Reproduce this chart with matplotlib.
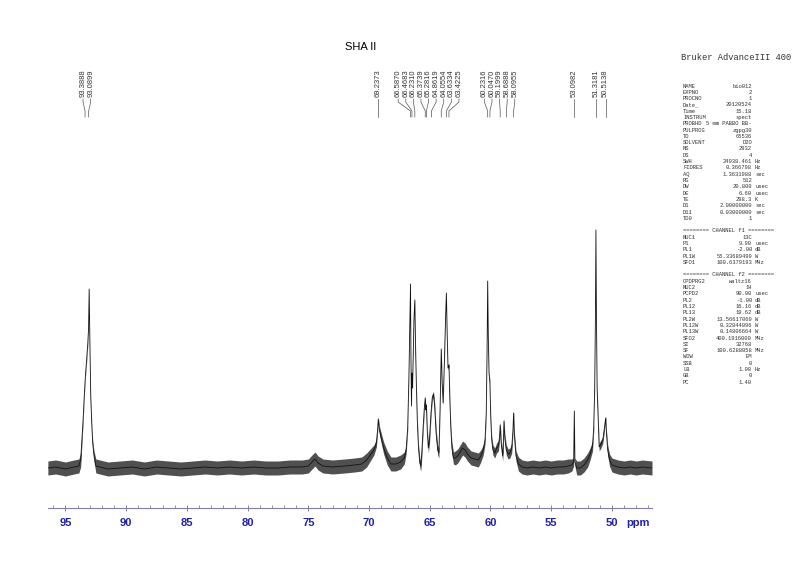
import matplotlib
matplotlib.use('Agg')
import matplotlib.pyplot as plt
import matplotlib.transforms as mtransforms
from matplotlib.ticker import MultipleLocator
import numpy as np

# spectrum: ppm, intensity (arbitrary units), noise half-width
ppm = [96.45, 95.8, 95.0, 94.3, 93.9, 93.75, 93.66, 93.55, 93.45, 93.36, 93.26, 93.16, 93.1,
       93.05, 92.99, 92.92, 92.84, 92.76, 92.65, 92.5, 91.5, 90.5, 89.5, 88.5, 87.5, 86.5,
       85.5, 84.5, 83.5, 82.5, 81.5, 80.5, 79.5, 78.5, 77.5, 76.5, 75.5, 75.0, 74.7, 74.45,
       74.2, 73.8, 73.0, 72.0, 71.2, 70.6, 70.2, 69.9, 69.6, 69.4, 69.3, 69.24, 69.15, 69.0,
       68.8, 68.5, 68.2, 67.8, 67.4, 67.1, 66.95, 66.82, 66.72, 66.64, 66.587, 66.55, 66.51,
       66.468, 66.42, 66.36, 66.3, 66.231, 66.17, 66.1, 66.02, 65.93, 65.82, 65.74, 65.66,
       65.55, 65.45, 65.374, 65.32, 65.282, 65.2, 65.12, 65.02, 64.9, 64.8, 64.7, 64.6, 64.48,
       64.35, 64.25, 64.15, 64.055, 63.98, 63.9, 63.8, 63.7, 63.633, 63.57, 63.5, 63.42, 63.35,
       63.27, 63.18, 63.05, 62.9, 62.7, 62.5, 62.3, 62.1, 61.9, 61.6, 61.3, 61.0, 60.8, 60.6,
       60.45, 60.35, 60.28, 60.232, 60.18, 60.12, 60.047, 59.98, 59.9, 59.8, 59.65, 59.5,
       59.35, 59.25, 59.2, 59.12, 59.0, 58.95, 58.889, 58.82, 58.7, 58.55, 58.4, 58.25, 58.15,
       58.096, 58.02, 57.9, 57.7, 57.4, 57.0, 56.5, 56.0, 55.5, 55.0, 54.5, 54.0, 53.6, 53.3,
       53.15, 53.098, 53.05, 52.9, 52.6, 52.3, 52.0, 51.8, 51.6, 51.5, 51.42, 51.36, 51.318,
       51.28, 51.22, 51.15, 51.05, 50.9, 50.75, 50.62, 50.514, 50.45, 50.35, 50.2, 50.0, 49.5,
       49.0, 48.5, 48.0, 47.5, 46.7]
intensity = [0, 1, -1, 1, 2, 8, 26, 48, 73, 92, 108, 125, 140,
             179, 125, 71, 45, 25, 12, 2, -1, 0, 1, -1, 1, 0,
             -1, 0, 1, 0, 1, 0, 1, 0, 0, 1, 1, 2, 6, 9,
             5, 2, 1, 2, 3, 4, 8, 13, 18, 25, 38, 49, 38, 30,
             20, 10, 4, 4, 6, 10, 18, 40, 90, 150, 184, 110, 62,
             95, 80, 115, 150, 168, 120, 80, 45, 20, 5, 2, 15,
             40, 60, 70, 58, 63, 35, 20, 30, 55, 70, 74, 62, 35,
             18, 15, 60, 119, 85, 65, 105, 150, 175, 135, 100, 103, 70,
             40, 20, 10, 10, 12, 16, 20, 18, 14, 10, 9, 8, 12, 18,
             28, 55, 120, 187, 130, 95, 85, 50, 28, 18, 15, 20,
             22, 32, 43, 25, 12, 20, 47, 30, 18, 14, 15, 20, 38,
             55, 30, 12, 4, 1, 0, 1, 0, 1, 0, 1, 1, 2, 3,
             6, 57, 6, 0, 0, 3, 8, 14, 22, 40, 80, 150, 238,
             160, 80, 55, 21, 24, 28, 40, 50, 35, 18, 8, 3, 1,
             0, 1, 0, 1, 0]
noise = [7, 7, 7, 7, 7, 7, 5, 3, 2, 2, 2, 2, 2,
         1, 2, 2, 2, 3, 5, 7, 7, 7, 7, 7, 7, 7,
         7, 7, 7, 7, 7, 7, 7, 7, 7, 7, 7, 7, 7, 7,
         7, 7, 7, 7, 7, 7, 7, 6, 5, 4, 3, 2, 4, 5,
         6, 7, 7, 7, 7, 6, 4, 3, 2, 2, 1, 2, 2,
         2, 2, 2, 2, 1, 2, 2, 3, 4, 5, 5, 5,
         4, 3, 2, 3, 2, 4, 5, 5, 4, 3, 3, 4, 5,
         5, 5, 3, 2, 2, 2, 2, 2, 1, 2, 2, 2, 3,
         4, 6, 6, 7, 7, 7, 7, 7, 7, 7, 7, 7, 6, 5,
         4, 3, 2, 1, 2, 2, 2, 3, 4, 5, 5, 5,
         5, 4, 3, 4, 5, 4, 3, 4, 5, 5, 5, 5, 3,
         2, 4, 5, 7, 7, 7, 7, 7, 7, 7, 7, 7, 7, 6,
         4, 1, 4, 7, 7, 7, 7, 6, 5, 3, 2, 1, 1,
         1, 2, 3, 4, 4, 3, 3, 2, 3, 5, 6, 7, 7,
         7, 7, 7, 7, 7]

peak_list = [93.3888, 93.0899, 69.2373, 66.5870, 66.4683, 66.2310, 65.3739, 65.2816,
             64.8619, 64.0554, 63.6334, 63.4225, 60.2316, 60.0470, 59.1999, 58.6888,
             58.0955, 53.0982, 51.3181, 50.5138]

par_names = ['NAME', 'EXPNO', 'PROCNO', 'Date_', 'Time', 'INSTRUM', 'PROBHD', 'PULPROG',
             'TD', 'SOLVENT', 'NS', 'DS', 'SWH', 'FIDRES', 'AQ', 'RG', 'DW', 'DE', 'TE',
             'D1', 'D11', 'TD0', '', '======== CHANNEL f1 ========', 'NUC1', 'P1', 'PL1',
             'PL1W', 'SFO1', '', '======== CHANNEL f2 ========', 'CPDPRG2', 'NUC2', 'PCPD2',
             'PL2', 'PL12', 'PL13', 'PL2W', 'PL12W', 'PL13W', 'SFO2', 'SI', 'SF', 'WDW',
             'SSB', 'LB', 'GB', 'PC']
par_values = ['bio012', '2', '1', '20120524', '15.18', 'spect', '5 mm PABBO BB-', 'zgpg30',
              '65536', 'D2O', '2932', '4', '24038.461', '0.366798', '1.3631988', '512',
              '20.800', '6.60', '298.3', '2.00000000', '0.03000000', '1', '', '', '13C',
              '9.90', '-2.00', '55.33689499', '100.6379193', '', '', 'waltz16', '1H',
              '90.00', '-1.00', '16.16', '19.62', '13.56617069', '0.32844096', '0.14806664',
              '400.1916000', '32768', '100.6288058', 'EM', '0', '1.00', '0', '1.40']
par_units = ['', '', '', '', '', '', '', '', '', '', '', '', 'Hz', 'Hz', 'sec', '', 'usec',
             'usec', 'K', 'sec', 'sec', '', '', '', '', 'usec', 'dB', 'W', 'MHz', '', '', '',
             '', 'usec', 'dB', 'dB', 'dB', 'W', 'W', 'W', 'MHz', '', 'MHz', '', '', 'Hz', '', '']

W, H = 800, 565
fig = plt.figure(figsize=(W / 100, H / 100), dpi=100)
ax = fig.add_axes([48 / W, 57 / H, 604 / W, 368 / H])

ppm = np.array(ppm)
intensity = np.array(intensity)
noise = np.array(noise)
ax.fill_between(ppm, intensity - noise, intensity + noise, color='#505050', lw=0)
ax.plot(ppm, intensity, color='#111111', lw=0.6)

ax.set_xlim(96.44, 46.7)
ax.set_ylim(-40, 328)
for s in ['top', 'left', 'right']:
    ax.spines[s].set_visible(False)
ax.spines['bottom'].set_color('#8080a8')
ax.spines['bottom'].set_linewidth(0.8)
ax.set_yticks([])
ax.xaxis.set_major_locator(MultipleLocator(5))
ax.xaxis.set_minor_locator(MultipleLocator(1))
ax.tick_params(axis='x', which='major', direction='inout', length=5, width=0.7,
               color='#8080a8', pad=5, labelsize=8, labelcolor='#2020a8')
ax.tick_params(axis='x', which='minor', direction='in', length=2.5, width=0.6, color='#8080a8')
for lab in ax.get_xticklabels():
    lab.set_fontweight('bold')
    lab.set_family('Liberation Sans')
fig.text(638 / W, 1 - 523 / H, 'ppm', ha='center', va='center', fontsize=8,
         fontweight='bold', color='#2020a8', family='Liberation Sans')

fig.text(361 / W, 1 - 47 / H, 'SHA II', ha='center', va='center', fontsize=8,
         family='Liberation Sans')

# peak labels, spread apart so they do not overlap
fig.canvas.draw()
px = np.array([ax.transData.transform((p, 0))[0] for p in peak_list])
order = np.argsort(px)
xs = px[order]
gap = 7.6
clusters = [[i] for i in range(len(xs))]

def place(c):
    n = len(c)
    m = np.mean(xs[c])
    return [m + (k - (n - 1) / 2) * gap for k in range(n)]

merged = True
while merged:
    merged = False
    for j in range(len(clusters) - 1):
        if place(clusters[j])[-1] + gap > place(clusters[j + 1])[0]:
            clusters[j] = clusters[j] + clusters[j + 1]
            del clusters[j + 1]
            merged = True
            break
lx = np.concatenate([place(c) for c in clusters])
inv = ax.transData.inverted()
label_ppm = np.empty(len(xs))
label_ppm[order] = [inv.transform((v, 0))[0] for v in lx]

trans = mtransforms.blended_transform_factory(ax.transData, fig.transFigure)
for p, lp in zip(peak_list, label_ppm):
    ax.text(lp, 1 - 97 / H, f'{p:.4f}', rotation=90, ha='center', va='bottom',
            fontsize=5.5, family='Liberation Sans', color='#333333', transform=trans)
    ys = [1 - 99 / H, 1 - 102 / H, 1 - 111 / H, 1 - 117 / H]
    ax.plot([lp, lp, p, p], ys, color='#555555', lw=0.5, transform=trans, clip_on=False)

# acquisition / processing parameters
pfont = dict(fontsize=4.0, family='Liberation Mono', color='#333333', va='center')
fig.text(681 / W, 1 - 58 / H, 'Bruker AdvanceIII 400', ha='left', va='center',
         fontsize=6.3, family='Liberation Mono', color='#333333')
y0 = 86
dy = 6.3
for i, (nm, val, un) in enumerate(zip(par_names, par_values, par_units)):
    y = 1 - (y0 + i * dy) / H
    if not nm:
        continue
    fig.text(683 / W, y, nm, ha='left', **pfont)
    if nm.startswith('='):
        continue
    fig.text(752 / W, y, val, ha='right', **pfont)
    if un:
        fig.text(755 / W, y, un, ha='left', **pfont)

fig.savefig('out.png', dpi=100)
